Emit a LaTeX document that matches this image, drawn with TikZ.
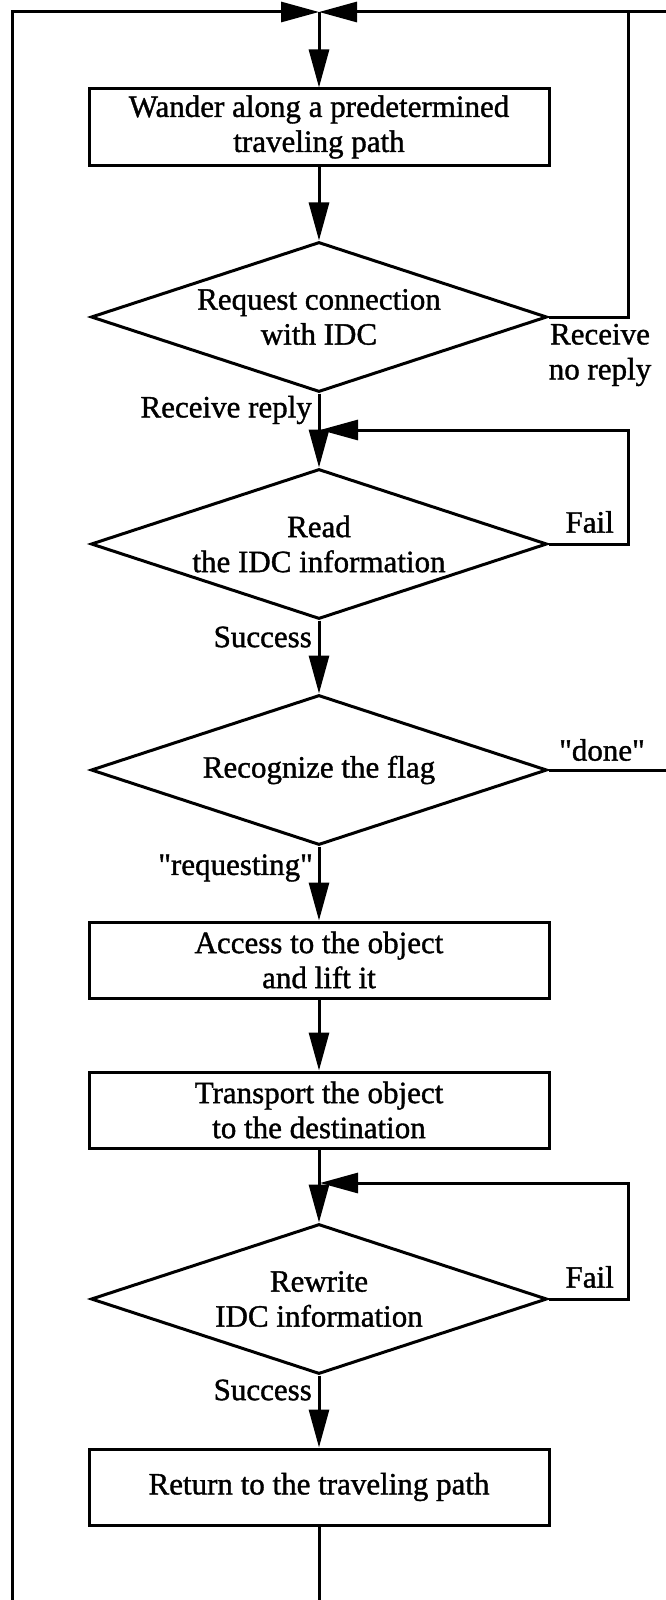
\documentclass[tikz,border=0pt]{standalone}
\usepackage{fontspec}
\setmainfont{Liberation Serif}[FakeBold=1.2]
\usetikzlibrary{arrows.meta,shapes.geometric}
\begin{document}
\begin{tikzpicture}[x=1pt,y=-1pt,
  every node/.style={font=\fontsize{31}{35}\selectfont},
  proc/.style={draw, line width=3pt, minimum width=460pt, minimum height=76pt, align=center, inner sep=0pt},
  dec/.style={draw, diamond, line width=3pt, minimum width=456pt, minimum height=150pt, inner sep=0pt, shape aspect=3},
  conn/.style={line width=3pt},
  arr/.style={conn, -{Triangle[length=38pt,width=20pt]}},
  lbl/.style={inner sep=0pt, align=center}]
\useasboundingbox (0,0) rectangle (666,1600);

% nodes
\node[proc] (b1) at (319,127) {Wander along a predetermined\\traveling path};
\node[dec, label={[lbl]center:Request connection\\with IDC}] (d1) at (319,317) {};
\node[dec, label={[lbl]center:Read\\the IDC information}] (d2) at (319,544) {};
\node[dec, label={[lbl]center:Recognize the flag}] (d3) at (319,770) {};
\node[proc] (b2) at (319,960) {Access to the object\\and lift it};
\node[proc] (b3) at (319,1110) {Transport the object\\to the destination};
\node[dec, label={[lbl]center:Rewrite\\IDC information}] (d4) at (319,1299) {};
\node[proc] (b4) at (319,1487) {Return to the traveling path};

% coordinates
\coordinate (top) at (319,12);
\coordinate (tl) at (12,12);
\coordinate (bl) at (12,1600);
\coordinate (tr) at (666,12);
\coordinate (r1) at (628,12);
\coordinate (f2) at (628,430);
\coordinate (j2) at (320,430);
\coordinate (dn) at (666,770);
\coordinate (f4) at (628,1183);
\coordinate (j4) at (320,1183);
\coordinate (bc) at (319,1600);

% connectors
\draw[arr] (bl) -- (tl) -- (top);
\draw[arr] (tr) -- (top);
\draw[conn] (d1.east) -| (r1);
\draw[arr] (top) -- (b1);
\draw[arr] (b1) -- (d1);
\draw[arr] (d1) -- (d2);
\draw[arr] (d2.east) -| (f2) -- (j2);
\draw[arr] (d2) -- (d3);
\draw[conn] (d3.east) -- (dn);
\draw[arr] (d3) -- (b2);
\draw[arr] (b2) -- (b3);
\draw[arr] (b3) -- (d4);
\draw[arr] (d4.east) -| (f4) -- (j4);
\draw[arr] (d4) -- (b4);
\draw[conn] (b4) -- (bc);

% labels
\node[lbl] (lnr) at (600,355) {Receive\\no reply};
\node[lbl, anchor=east] (lrr) at (312,410) {Receive reply};
\node[lbl, anchor=east] (lf2) at (614,522) {Fail};
\node[lbl, anchor=east] (ls1) at (312,637) {Success};
\node[lbl] (ldn) at (602,750) {\textquotedbl done\textquotedbl};
\node[lbl, anchor=east] (lrq) at (313,868) {\textquotedbl requesting\textquotedbl};
\node[lbl, anchor=east] (lf4) at (614,1277) {Fail};
\node[lbl, anchor=east] (ls2) at (312,1390) {Success};
\end{tikzpicture}
\end{document}
